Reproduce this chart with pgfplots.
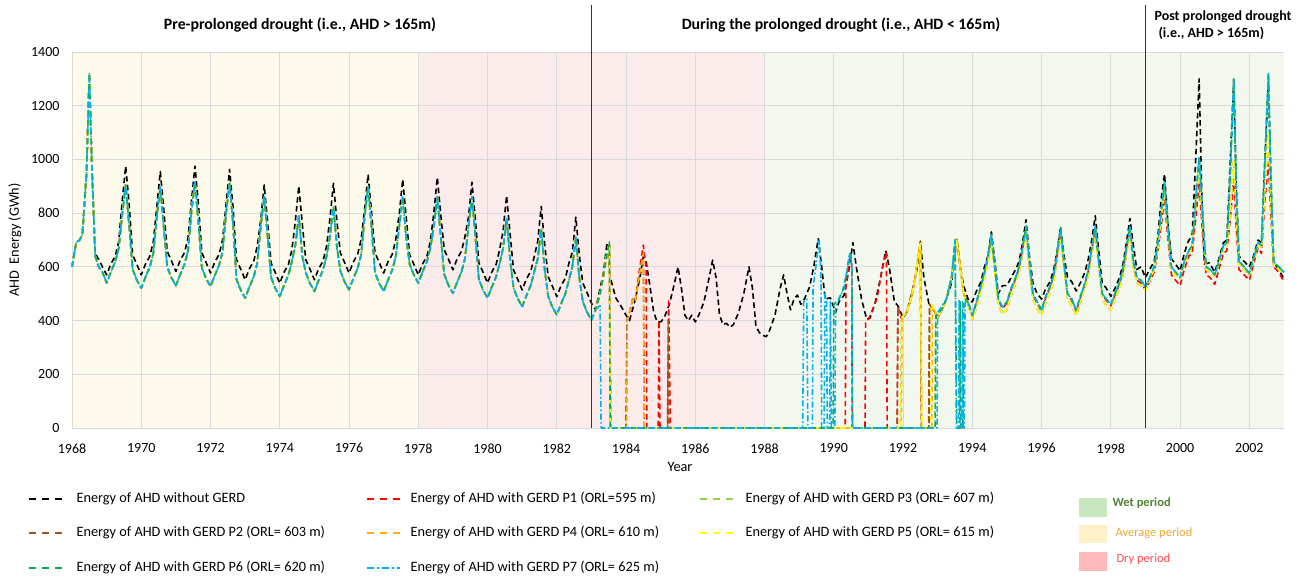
\documentclass[border=0pt]{standalone}
\usepackage{fontspec}
\setmainfont{Carlito}
\usepackage{pgfplots}
\usepackage{pgfplotstable}
\pgfplotsset{compat=1.18}

\definecolor{cP1}{HTML}{FF0000}
\definecolor{cP2}{HTML}{A5541E}
\definecolor{cP3}{HTML}{92D050}
\definecolor{cP4}{HTML}{FFB000}
\definecolor{cP5}{HTML}{FFFF00}
\definecolor{cP6}{HTML}{00B050}
\definecolor{cP7}{HTML}{00B0F0}
\definecolor{bgAvg}{HTML}{FDFAEB}
\definecolor{bgDry}{HTML}{FCEBEB}
\definecolor{bgWet}{HTML}{F3F8EE}
\definecolor{boxWet}{HTML}{C9E7BE}
\definecolor{boxAvg}{HTML}{FFF0C8}
\definecolor{boxDry}{HTML}{FFB9B9}
\definecolor{txtWet}{HTML}{548235}
\definecolor{txtAvg}{HTML}{F0A830}
\definecolor{txtDry}{HTML}{FF4D4D}
\definecolor{gridc}{HTML}{D9D9D9}

\tikzset{
  dsh/.style={line width=1.6pt, line join=round, dash pattern=on 5.5pt off 3.5pt},
  s0/.style={dsh, black},
  s1/.style={dsh, cP1},
  s2/.style={dsh, cP2},
  s3/.style={dsh, cP3},
  s4/.style={dsh, cP4},
  s5/.style={dsh, cP5},
  s6/.style={dsh, cP6},
  s7/.style={line width=1.6pt, line join=round, cP7, dash pattern=on 6pt off 2.5pt on 1.5pt off 2.5pt},
  key/.style={dash pattern=on 7pt off 6pt},
  keydd/.style={dash pattern=on 7pt off 3pt on 2pt off 3pt},
}

% energy without GERD
\pgfplotstableread{
t v
1968.00 600
1968.12 690
1968.22 700
1968.30 720
1968.42 950
1968.50 1320
1968.58 950
1968.67 650
1968.77 628
1968.88 600
1969.00 570
1969.12 610
1969.25 640
1969.35 695
1969.45 845
1969.55 975
1969.65 835
1969.75 645
1969.87 610
1970.00 570
1970.12 610
1970.25 640
1970.35 695
1970.45 825
1970.55 955
1970.65 815
1970.75 658
1970.87 623
1971.00 583
1971.12 623
1971.25 653
1971.35 708
1971.45 845
1971.55 975
1971.65 835
1971.75 652
1971.87 617
1972.00 577
1972.12 617
1972.25 647
1972.35 702
1972.45 833
1972.55 963
1972.65 823
1972.75 627
1972.87 592
1973.00 552
1973.12 592
1973.25 622
1973.35 677
1973.45 775
1973.55 905
1973.65 765
1973.75 614
1973.87 579
1974.00 539
1974.12 579
1974.25 609
1974.35 664
1974.45 771
1974.55 901
1974.65 761
1974.75 627
1974.87 592
1975.00 552
1975.12 592
1975.25 622
1975.35 677
1975.45 781
1975.55 911
1975.65 771
1975.75 652
1975.87 617
1976.00 577
1976.12 617
1976.25 647
1976.35 702
1976.45 814
1976.55 944
1976.65 804
1976.75 652
1976.87 617
1977.00 577
1977.12 617
1977.25 647
1977.35 702
1977.45 796
1977.55 926
1977.65 786
1977.75 645
1977.87 610
1978.00 570
1978.12 610
1978.25 640
1978.35 695
1978.45 803
1978.55 933
1978.65 793
1978.75 664
1978.87 629
1979.00 589
1979.12 629
1979.25 659
1979.35 714
1979.45 785
1979.55 915
1979.65 775
1979.75 615
1979.87 580
1980.00 540
1980.12 580
1980.25 610
1980.35 665
1980.45 735
1980.55 865
1980.65 725
1980.75 589
1980.87 554
1981.00 514
1981.12 554
1981.25 584
1981.35 639
1981.45 695
1981.55 825
1981.65 685
1981.75 564
1981.87 529
1982.00 489
1982.12 529
1982.25 559
1982.35 614
1982.45 655
1982.55 785
1982.65 645
1982.75 540
1982.87 505
1983.00 465
1983.12 440
1983.25 520
1983.35 580
1983.45 690
1983.55 560
1983.70 485
1983.85 455
1984.00 420
1984.10 400
1984.25 470
1984.40 560
1984.50 640
1984.58 620
1984.70 520
1984.80 430
1984.90 395
1985.00 395
1985.10 410
1985.25 460
1985.40 540
1985.50 600
1985.60 520
1985.70 420
1985.80 400
1985.90 420
1986.00 395
1986.10 420
1986.25 470
1986.40 560
1986.50 625
1986.60 560
1986.70 420
1986.80 385
1986.90 390
1987.00 375
1987.10 385
1987.25 430
1987.40 500
1987.55 600
1987.65 520
1987.75 380
1987.85 355
1987.95 345
1988.05 340
1988.15 365
1988.30 420
1988.45 520
1988.55 570
1988.65 500
1988.75 440
1988.85 480
1988.95 495
1989.05 460
1989.15 480
1989.30 525
1989.42 600
1989.55 705
1989.65 600
1989.75 480
1989.90 485
1990.05 430
1990.15 470
1990.30 495
1990.45 600
1990.55 690
1990.65 600
1990.80 480
1990.95 405
1991.05 410
1991.20 470
1991.35 560
1991.50 660
1991.60 600
1991.75 470
1991.85 455
1992.00 410
1992.10 430
1992.25 500
1992.40 590
1992.50 695
1992.60 560
1992.75 460
1992.85 450
1993.00 410
1993.12 440
1993.25 480
1993.40 540
1993.55 705
1993.65 600
1993.75 530
1993.90 470
1994.00 470
1994.12 510
1994.25 545
1994.35 600
1994.45 640
1994.55 730
1994.65 620
1994.75 500
1994.87 530
1995.00 530
1995.12 560
1995.25 590
1995.35 620
1995.45 690
1995.55 775
1995.65 640
1995.75 540
1995.87 500
1996.00 480
1996.12 520
1996.25 545
1996.35 590
1996.45 660
1996.55 750
1996.65 640
1996.75 560
1996.87 545
1997.00 510
1997.12 540
1997.25 580
1997.35 630
1997.45 700
1997.55 790
1997.65 660
1997.75 540
1997.87 520
1998.00 490
1998.12 520
1998.25 560
1998.35 610
1998.45 690
1998.55 780
1998.65 680
1998.75 590
1998.87 600
1999.00 560
1999.12 590
1999.25 620
1999.35 700
1999.45 850
1999.55 945
1999.65 760
1999.75 630
1999.87 610
2000.00 585
2000.12 650
2000.22 690
2000.35 720
2000.45 1000
2000.55 1300
2000.62 900
2000.70 610
2000.85 615
2001.00 580
2001.12 630
2001.25 690
2001.35 700
2001.45 1000
2001.55 1300
2001.62 900
2001.70 640
2001.85 620
2002.00 600
2002.12 640
2002.25 700
2002.35 690
2002.45 1000
2002.55 1290
2002.62 900
2002.70 620
2002.85 590
2003.00 555
}\blackdata

% with GERD, before 1983 (all seven runs coincide)
\pgfplotstableread{
t g
1968.00 600
1968.12 690
1968.22 700
1968.30 720
1968.42 950
1968.50 1320
1968.58 950
1968.67 640
1968.77 600
1968.88 580
1969.00 540
1969.12 580
1969.25 620
1969.35 670
1969.45 795
1969.55 905
1969.65 755
1969.75 591
1969.87 551
1970.00 521
1970.12 561
1970.25 601
1970.35 651
1970.45 788
1970.55 898
1970.65 748
1970.75 600
1970.87 560
1971.00 530
1971.12 570
1971.25 610
1971.35 660
1971.45 807
1971.55 917
1971.65 767
1971.75 597
1971.87 557
1972.00 527
1972.12 567
1972.25 607
1972.35 657
1972.45 801
1972.55 911
1972.65 761
1972.75 554
1972.87 514
1973.00 484
1973.12 524
1973.25 564
1973.35 614
1973.45 751
1973.55 861
1973.65 711
1973.75 560
1973.87 520
1974.00 490
1974.12 530
1974.25 570
1974.35 620
1974.45 680
1974.55 790
1974.65 640
1974.75 579
1974.87 539
1975.00 509
1975.12 549
1975.25 589
1975.35 639
1975.45 714
1975.55 824
1975.65 674
1975.75 585
1975.87 545
1976.00 515
1976.12 555
1976.25 595
1976.35 645
1976.45 788
1976.55 898
1976.65 748
1976.75 579
1976.87 539
1977.00 509
1977.12 549
1977.25 589
1977.35 639
1977.45 751
1977.55 861
1977.65 711
1977.75 610
1977.87 570
1978.00 540
1978.12 580
1978.25 620
1978.35 670
1978.45 751
1978.55 861
1978.65 711
1978.75 572
1978.87 532
1979.00 502
1979.12 542
1979.25 582
1979.35 632
1979.45 750
1979.55 860
1979.65 710
1979.75 554
1979.87 514
1980.00 484
1980.12 524
1980.25 564
1980.35 614
1980.45 670
1980.55 780
1980.65 630
1980.75 522
1980.87 482
1981.00 452
1981.12 492
1981.25 532
1981.35 582
1981.45 630
1981.55 740
1981.65 590
1981.75 491
1981.87 451
1982.00 421
1982.12 461
1982.25 501
1982.35 551
1982.45 600
1982.55 710
1982.65 560
1982.75 472
1982.87 432
1983.00 402
}\predata

% with GERD, from late 1993: g = P3, P6, P7; y = P2, P4, P5; r = P1
\pgfplotstableread{
t g y r
1993.90 460 450 460
1994.00 420 405 415
1994.12 470 450 465
1994.25 530 510 525
1994.35 580 560 575
1994.45 640 620 630
1994.55 720 700 715
1994.65 600 580 595
1994.75 480 460 475
1994.87 450 425 445
1995.00 470 440 465
1995.12 520 495 515
1995.25 560 540 555
1995.35 600 580 595
1995.45 670 650 665
1995.55 750 730 745
1995.65 620 600 615
1995.75 500 480 495
1995.87 470 445 465
1996.00 440 420 435
1996.12 490 470 485
1996.25 530 505 525
1996.35 570 550 565
1996.45 650 630 645
1996.55 745 725 740
1996.65 610 590 605
1996.75 500 480 495
1996.87 480 455 475
1997.00 440 420 435
1997.12 490 470 485
1997.25 540 520 535
1997.35 590 570 585
1997.45 670 650 665
1997.55 750 730 745
1997.65 620 600 615
1997.75 500 480 495
1997.87 480 455 475
1998.00 460 440 455
1998.12 500 480 495
1998.25 540 520 535
1998.35 590 570 585
1998.45 670 650 665
1998.55 750 730 745
1998.65 620 600 615
1998.75 560 540 550
1998.87 550 530 540
1999.00 525 515 515
1999.12 560 550 545
1999.25 600 590 580
1999.35 680 660 650
1999.45 800 780 750
1999.55 915 890 855
1999.65 750 730 700
1999.75 600 590 570
1999.87 580 570 550
2000.00 560 555 530
2000.12 620 610 590
2000.25 660 650 640
2000.35 680 670 650
2000.45 850 830 780
2000.55 1010 970 910
2000.65 800 770 720
2000.75 600 590 570
2000.87 590 580 560
2001.00 570 565 535
2001.12 620 610 590
2001.25 680 670 650
2001.35 690 680 660
2001.45 950 800 780
2001.55 1300 1000 925
2001.62 900 800 750
2001.70 620 610 590
2001.85 600 590 570
2002.00 575 570 550
2002.12 630 620 610
2002.25 690 680 670
2002.35 680 670 650
2002.45 1000 900 850
2002.55 1320 1100 985
2002.62 950 850 800
2002.70 620 610 600
2002.85 600 590 580
2003.00 580 575 545
}\postdata

\begin{document}
\begin{tikzpicture}[x=1pt,y=1pt,font=\fontsize{14.3}{17}\selectfont]
\begin{axis}[
  at={(0,0)}, anchor=south west,
  scale only axis, width=1212pt, height=376pt,
  set layers, clip=false,
  xmin=1968, xmax=2003, ymin=0, ymax=1400,
  xtick={1968,1970,...,2002},
  ytick={0,200,...,1400},
  /pgf/number format/1000 sep={},
  /pgf/number format/assume math mode=true,
  tick label style={font=\fontsize{14}{17}\selectfont},
  major tick length=0pt,
  xtick style={draw=none}, ytick style={draw=none},
  grid=major,
  grid style={gridc, line width=0.8pt},
  axis line style={draw=none},
  yticklabel style={xshift=-9pt},
  xticklabel style={yshift=-12pt},
]
\begin{pgfonlayer}{axis background}
\fill[bgAvg] (axis cs:1968,0) rectangle (axis cs:1978,1400);
\fill[bgDry] (axis cs:1978,0) rectangle (axis cs:1988,1400);
\fill[bgWet] (axis cs:1988,0) rectangle (axis cs:2003,1400);
\end{pgfonlayer}

\addplot[s0] table[x=t, y=v] {\blackdata};

% P1
\addplot[s1] table[x=t, y=g] {\predata};
\addplot[s1] coordinates {
(1983.00,402) (1983.12,440) (1983.25,500) (1983.35,570) (1983.45,650) (1983.52,690)
(1983.55,0) (1984.00,0) (1984.03,400) (1984.12,440) (1984.20,484) (1984.27,477)
(1984.40,600) (1984.50,681) (1984.58,600) (1984.60,0) (1984.93,0) (1984.95,400)
(1984.98,0) (1985.20,0) (1985.23,480) (1985.28,0) (1990.33,0) (1990.35,526)
(1990.42,600) (1990.48,650) (1990.52,600) (1990.53,0) (1990.90,0) (1990.92,400)
(1991.00,405) (1991.12,440) (1991.25,484) (1991.40,595) (1991.52,655) (1991.54,0)
(1991.83,0) (1991.85,450) (1991.95,410) (1992.10,430) (1992.25,490) (1992.35,560)
(1992.45,650) (1992.50,690) (1992.53,0) (1992.75,0) (1992.77,460) (1992.88,440)
(1993.00,410) (1993.12,440) (1993.25,480) (1993.40,560) (1993.55,700) (1993.65,600)
(1993.75,500) (1993.90,460)
};
\addplot[s1] table[x=t, y=r] {\postdata};

% P2
\addplot[s2] table[x=t, y=g] {\predata};
\addplot[s2] coordinates {
(1983.00,402) (1983.12,440) (1983.25,500) (1983.35,570) (1983.45,650) (1983.52,690)
(1983.56,0) (1984.00,0) (1984.03,400) (1984.12,440) (1984.20,484) (1984.27,477)
(1984.40,580) (1984.50,650) (1984.53,0) (1985.20,0) (1985.22,400) (1985.24,0)
(1991.83,0) (1991.85,450) (1991.95,410) (1992.10,430) (1992.25,490) (1992.35,560)
(1992.45,650) (1992.50,690) (1992.53,0) (1992.74,0) (1992.76,460) (1992.88,440)
(1993.00,410) (1993.12,440) (1993.25,480) (1993.40,560) (1993.55,700) (1993.65,600)
(1993.75,500) (1993.90,450)
};
\addplot[s2] table[x=t, y=y] {\postdata};

% P3
\addplot[s3] table[x=t, y=g] {\predata};
\addplot[s3] coordinates {
(1983.00,402) (1983.12,440) (1983.25,500) (1983.35,570) (1983.45,650) (1983.52,690)
(1983.55,0) (1991.93,0) (1991.95,410) (1992.10,430) (1992.25,490) (1992.35,560)
(1992.45,650) (1992.50,690) (1992.54,0) (1992.92,0) (1992.94,430) (1993.00,410)
(1993.12,440) (1993.25,480) (1993.40,560) (1993.55,700) (1993.65,600) (1993.75,500)
(1993.90,460)
};
\addplot[s3] table[x=t, y=g] {\postdata};

% P4
\addplot[s4] table[x=t, y=g] {\predata};
\addplot[s4] coordinates {
(1983.00,402) (1983.12,440) (1983.25,500) (1983.35,570) (1983.45,650) (1983.52,690)
(1983.55,0) (1984.02,0) (1984.04,400) (1984.12,440) (1984.20,484) (1984.27,477)
(1984.40,580) (1984.50,650) (1984.52,0) (1991.95,0) (1991.97,410) (1992.10,430)
(1992.25,490) (1992.35,560) (1992.45,650) (1992.50,690) (1992.53,0) (1992.83,0)
(1992.85,455) (1993.00,410) (1993.12,440) (1993.25,480) (1993.40,560) (1993.55,700)
(1993.65,600) (1993.75,500) (1993.90,450)
};
\addplot[s4] table[x=t, y=y] {\postdata};

% P5
\addplot[s5] table[x=t, y=g] {\predata};
\addplot[s5] coordinates {
(1983.00,402) (1983.12,440) (1983.25,500) (1983.35,570) (1983.45,650) (1983.52,690)
(1983.54,0) (1991.94,0) (1991.96,410) (1992.10,430) (1992.25,490) (1992.35,560)
(1992.45,650) (1992.50,690) (1992.55,0) (1992.80,0) (1992.82,460) (1993.00,410)
(1993.12,440) (1993.25,480) (1993.40,560) (1993.55,700) (1993.65,600) (1993.75,500)
(1993.90,450)
};
\addplot[s5] table[x=t, y=y] {\postdata};

% P6
\addplot[s6] table[x=t, y=g] {\predata};
\addplot[s6] coordinates {
(1983.00,402) (1983.12,440) (1983.25,500) (1983.35,570) (1983.45,650) (1983.52,695)
(1983.54,0) (1989.98,0) (1990.00,460) (1990.13,477) (1990.25,510) (1990.38,580)
(1990.48,650) (1990.52,600) (1990.54,0) (1992.93,0) (1992.95,420) (1993.05,430)
(1993.15,450) (1993.25,480) (1993.40,560) (1993.50,700) (1993.55,0) (1993.63,0)
(1993.65,470) (1993.67,0) (1993.73,0) (1993.75,470) (1993.82,480) (1993.90,460)
};
\addplot[s6] table[x=t, y=g] {\postdata};

% P7
\addplot[s7] table[x=t, y=g] {\predata};
\addplot[s7] coordinates {
(1983.00,402) (1983.12,440) (1983.25,455) (1983.28,0) (1989.10,0) (1989.13,470)
(1989.22,480) (1989.25,0) (1989.38,0) (1989.40,520) (1989.48,600) (1989.58,700)
(1989.63,560) (1989.65,0) (1989.72,0) (1989.74,500) (1989.79,470) (1989.81,0)
(1989.88,0) (1989.90,470) (1989.93,0) (1990.03,0) (1990.05,450) (1990.15,480)
(1990.30,520) (1990.45,650) (1990.52,600) (1990.54,0) (1992.98,0) (1993.00,430)
(1993.15,460) (1993.25,480) (1993.40,560) (1993.50,700) (1993.54,0) (1993.60,0)
(1993.62,480) (1993.64,0) (1993.70,0) (1993.72,470) (1993.74,0) (1993.77,0)
(1993.79,470) (1993.90,460)
};
\addplot[s7] table[x=t, y=g] {\postdata};

\draw[black!80, line width=0.8pt] (axis cs:1983,0) -- (axis cs:1983,1575);
\draw[black!80, line width=0.8pt] (axis cs:1999,0) -- (axis cs:1999,1575);
\end{axis}

% period titles
\node[font=\fontsize{15.8}{18}\selectfont\bfseries] at (228,403) {Pre-prolonged drought (i.e., AHD > 165m)};
\node[font=\fontsize{15.8}{18}\selectfont\bfseries] at (769,403) {During the prolonged drought (i.e., AHD < 165m)};
\node[font=\fontsize{14}{17}\selectfont\bfseries, anchor=west] at (1079,411) {Post prolonged drought};
\node[font=\fontsize{14}{17}\selectfont\bfseries, anchor=west] at (1083,395) {(i.e., AHD > 165m)};

% axis titles
\node[rotate=90] at (-57,188) {AHD~ Energy (GWh)};
\node at (608,-39) {Year};

% legend
\draw[s0, key] (-43,-71) -- (-10,-71);
\node[anchor=west] at (1,-71) {Energy of AHD without GERD};
\draw[s2, key] (-43,-105) -- (-10,-105);
\node[anchor=west] at (1,-105) {Energy of AHD with GERD P2 (ORL= 603 m)};
\draw[s6, key] (-43,-140) -- (-10,-140);
\node[anchor=west] at (1,-140) {Energy of AHD with GERD P6 (ORL= 620 m)};

\draw[s1, key] (295,-71) -- (328,-71);
\node[anchor=west] at (335,-71) {Energy of AHD with GERD P1 (ORL=595 m)};
\draw[s4, key] (295,-105) -- (328,-105);
\node[anchor=west] at (335,-105) {Energy of AHD with GERD P4 (ORL= 610 m)};
\draw[s7, keydd] (295,-140) -- (328,-140);
\node[anchor=west] at (335,-140) {Energy of AHD with GERD P7 (ORL= 625 m)};

\draw[s3, key] (628,-71) -- (661,-71);
\node[anchor=west] at (670,-71) {Energy of AHD with GERD P3 (ORL= 607 m)};
\draw[s5, key] (628,-105) -- (661,-105);
\node[anchor=west] at (670,-105) {Energy of AHD with GERD P5 (ORL= 615 m)};

% period boxes
\fill[boxWet] (1007,-70) rectangle (1035,-89);
\node[anchor=west, text=txtWet, font=\fontsize{12.5}{15}\selectfont\bfseries] at (1037,-75) {Wet period};
\fill[boxAvg] (1007,-97) rectangle (1035,-115);
\node[anchor=west, text=txtAvg, font=\fontsize{12.5}{15}\selectfont] at (1040,-105) {Average period};
\fill[boxDry] (1007,-124) rectangle (1035,-143);
\node[anchor=west, text=txtDry, font=\fontsize{12.5}{15}\selectfont] at (1041,-131) {Dry period};

% page frame (matches the reference canvas)
\path (-72,-149) rectangle (1230,428);
\end{tikzpicture}
\end{document}
